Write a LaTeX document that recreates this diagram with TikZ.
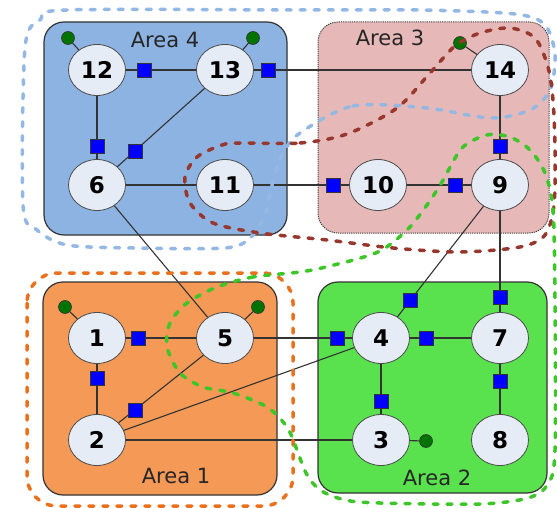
\documentclass[tikz,border=0pt]{standalone}
\usepackage{fontspec}
\setmainfont{DejaVu Sans}
\usetikzlibrary{shapes.geometric}
\definecolor{area4}{RGB}{141,179,226}
\definecolor{area3}{RGB}{230,184,183}
\definecolor{area1}{RGB}{244,153,86}
\definecolor{area2}{RGB}{89,226,78}
\definecolor{busfill}{RGB}{230,236,246}
\definecolor{pmublue}{RGB}{0,0,255}
\definecolor{gengreen}{RGB}{0,115,0}
\definecolor{zoneblue}{RGB}{148,184,228}
\definecolor{zonebrown}{RGB}{152,55,45}
\definecolor{zonegreen}{RGB}{60,198,40}
\definecolor{zoneorange}{RGB}{234,112,28}
\tikzstyle{areabox} = [draw=black!80, line width=1.2pt, rounded corners=20pt]
\tikzstyle{bus} = [ellipse, draw=black!70, fill=busfill, line width=0.8pt, minimum width=57pt, minimum height=51pt, inner sep=0pt, font=\fontsize{23}{23}\selectfont\bfseries]
\tikzstyle{pmu} = [rectangle, draw=black!80, fill=pmublue, minimum size=14pt, inner sep=0pt, line width=0.6pt]
\tikzstyle{gen} = [circle, draw=black!80, fill=gengreen, minimum size=13pt, inner sep=0pt, line width=0.6pt]
\tikzstyle{line} = [draw, color=black!80, line width=1.1pt]
\tikzstyle{zone} = [line width=3.5pt, line cap=round, dash pattern=on 5pt off 9pt]
\tikzstyle{title} = [font=\fontsize{21}{21}\selectfont, text=black!85]
\newcommand{\bus}[1]{
node (b#1) [bus] {#1}}
\newcommand{\gen}[1]{
node (g#1) [gen] {}}
\newcommand{\pmu}[1]{
node (m#1) [pmu] {}}
\newcommand{\branch}[2]{
  \path [line] (b#1) -- (b#2);}
\newcommand{\feed}[1]{
  \path [line] (g#1) -- (b#1);}

\begin{document}
\begin{tikzpicture}[x=1pt, y=-1pt]
		\useasboundingbox (0,0) rectangle (557,508);

		% Draw area boxes
		\path [areabox, fill=area4] (44,22) rectangle (287,235);
		\path [areabox, fill=area3, draw=black!75, densely dotted, line width=1pt] (318,22) rectangle (549,233);
		\path [areabox, fill=area1] (43,282) rectangle (277,495);
		\path [areabox, fill=area2] (318,282) rectangle (547,493);
		\path (165,40) node (t4) [title] {Area 4};
		\path (390,38) node (t3) [title] {Area 3};
		\path (176,476) node (t1) [title] {Area 1};
		\path (437,478) node (t2) [title] {Area 2};

		% Draw buses
		\path (97,70) \bus{12};
		\path (225,70) \bus{13};
		\path (500,70) \bus{14};
		\path (97,185) \bus{6};
		\path (225,185) \bus{11};
		\path (378,185) \bus{10};
		\path (500,185) \bus{9};
		\path (97,338) \bus{1};
		\path (225,338) \bus{5};
		\path (381,338) \bus{4};
		\path (500,338) \bus{7};
		\path (97,440) \bus{2};
		\path (381,440) \bus{3};
		\path (500,440) \bus{8};

		% Draw branches between buses
		\branch{12}{13};
		\branch{13}{14};
		\branch{12}{6};
		\branch{13}{6};
		\branch{6}{11};
		\branch{11}{10};
		\branch{10}{9};
		\branch{14}{9};
		\branch{6}{5};
		\branch{1}{5};
		\branch{1}{2};
		\branch{5}{2};
		\branch{2}{4};
		\branch{2}{3};
		\branch{5}{4};
		\branch{4}{7};
		\branch{9}{4};
		\branch{9}{7};
		\branch{4}{3};
		\branch{7}{8};

		% Draw generators
		\path (68,38) \gen{12};
		\path (253,38) \gen{13};
		\path (460,43) \gen{14};
		\path (65,307) \gen{1};
		\path (258,307) \gen{5};
		\path (426,441) \gen{3};
		\feed{12}; \feed{13}; \feed{14};
		\feed{1}; \feed{5}; \feed{3};

		% Draw measurement squares
		\path (144,70) \pmu{1};
		\path (268,70) \pmu{2};
		\path (97,146) \pmu{3};
		\path (135,151) \pmu{4};
		\path (333,185) \pmu{5};
		\path (455,185) \pmu{6};
		\path (500,146) \pmu{7};
		\path (138,338) \pmu{8};
		\path (97,378) \pmu{9};
		\path (135,410) \pmu{10};
		\path (337,338) \pmu{11};
		\path (426,338) \pmu{12};
		\path (410,300) \pmu{13};
		\path (500,297) \pmu{14};
		\path (381,401) \pmu{15};
		\path (500,381) \pmu{16};

		% Draw dashed zones
		\draw [zone, zoneorange, rounded corners=30pt] (27,273) rectangle (293,506);
		\draw [zone, zoneblue] plot [smooth cycle] coordinates {(300,133) (353,106) (427,108) (490,118) (530,110) (550,90) (555,55) (545,25) (515,14) (420,10) (300,10) (67,10) (40,20) (25,48) (23,205) (37,230) (67,245) (133,248) (225,248) (250,238) (265,215) (272,185) (282,155)};
		\draw [zone, zonebrown] plot [smooth cycle] coordinates {(240,143) (300,143) (347,134) (397,108) (430,73) (455,46) (480,33) (510,28) (535,38) (548,67) (553,100) (555,150) (554,205) (545,235) (520,247) (460,252) (393,248) (327,240) (260,233) (213,223) (190,203) (185,177) (197,157) (222,145)};
		\draw [zone, zonegreen] plot [smooth cycle] coordinates {(300,272) (253,277) (217,287) (187,303) (170,323) (167,347) (180,373) (203,387) (233,393) (267,407) (287,427) (297,450) (306,473) (320,490) (345,500) (380,503) (480,504) (528,498) (548,484) (555,450) (555,300) (553,210) (545,173) (530,150) (510,137) (487,135) (462,148) (442,182) (427,205) (407,230) (378,252) (330,266)};

	\end{tikzpicture}
\end{document}
